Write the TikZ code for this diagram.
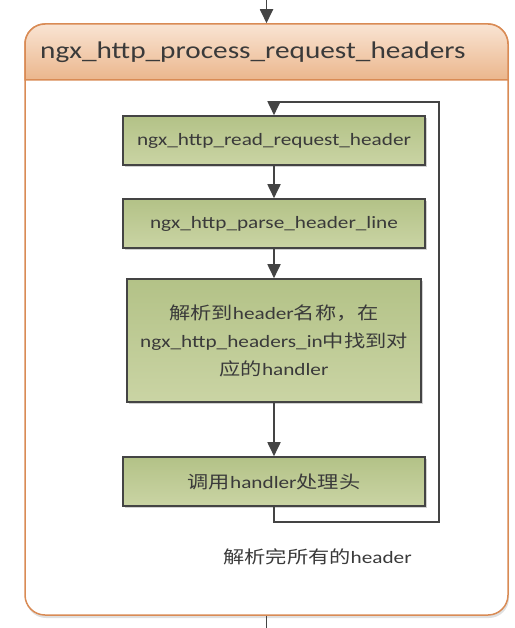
\documentclass[tikz,border=0pt]{standalone}
\usepackage{fontspec}
\setmainfont{Carlito}
\newfontfamily\cjk{Noto Sans CJK SC}
\usetikzlibrary{arrows.meta,shadows}
\definecolor{frameorange}{HTML}{D98B55}
\definecolor{headtop}{HTML}{F9E4D3}
\definecolor{headbot}{HTML}{EBB68C}
\definecolor{boxtop}{HTML}{B3C287}
\definecolor{boxbot}{HTML}{CAD4A4}
\definecolor{linegray}{HTML}{444444}
\definecolor{textgray}{HTML}{3A3A3A}
\newcommand\hstr[1]{\scalebox{1.22}[1]{#1}}
\tikzset{
  stepbox/.style={draw=linegray, line width=1.6pt, top color=boxtop, bottom color=boxbot,
    drop shadow={shadow xshift=2pt, shadow yshift=-2pt, fill=black, opacity=0.18},
    text=textgray, font=\fontsize{17.4}{28}\selectfont, align=center,
    minimum width=302pt, minimum height=49pt, inner sep=0pt},
  flow/.style={draw=linegray, line width=1.8pt, -{Triangle[length=14pt,width=13pt]}},
  plain/.style={draw=linegray, line width=1.8pt},
}
\begin{document}
\begin{tikzpicture}[x=1pt,y=-1pt]
\useasboundingbox (0,0) rectangle (514,628);
% container
\node[draw=frameorange, line width=1.5pt, rounded corners=20pt, fill=white,
  minimum width=483pt, minimum height=591pt, inner sep=0pt,
  drop shadow={shadow xshift=1pt, shadow yshift=-3pt, fill=black, opacity=0.12}]
  (cont) at (266.5,319.5) {};
\shade[top color=headtop, bottom color=headbot, draw=frameorange, line width=1.5pt]
  (25,80) [rounded corners=20pt] -- (25,24) -- (508,24) [sharp corners] -- (508,80) -- cycle;
\node[anchor=west, text=textgray, font=\fontsize{24}{28}\selectfont, inner sep=0pt]
  (title) at (40,52) {\hstr{ngx\_http\_process\_request\_headers}};
% boxes
\node[stepbox] (b1) at (274,140.5) {\hstr{ngx\_http\_read\_request\_header}};
\node[stepbox] (b2) at (274,223.5) {\hstr{ngx\_http\_parse\_header\_line}};
\node[stepbox, minimum width=294pt, minimum height=123pt] (b3) at (274,340.5)
  {\hstr{{\cjk 解析到}header{\cjk 名称，在}}\\
   \hstr{ngx\_http\_headers\_in{\cjk 中找到对}}\\
   \hstr{{\cjk 应的}handler}};
\node[stepbox] (b4) at (274,481.5) {\hstr{{\cjk 调用}handler{\cjk 处理头}}};
\node[text=textgray, font=\fontsize{17.4}{28}\selectfont, inner sep=0pt] (lbl) at (317.5,557)
  {\hstr{{\cjk 解析完所有的}header}};
% external connectors
\coordinate (topin) at (266.5,0);
\coordinate (botout) at (266.5,628);
\draw[flow] (topin) -- (cont.north);
\draw[plain] (cont.south) -- (botout);
% internal flow
\draw[flow] (b1) -- (b2);
\draw[flow] (b2) -- (b3);
\draw[flow] (b3) -- (b4);
\coordinate (l1) at (274,522);
\coordinate (l2) at (439,522);
\coordinate (l3) at (439,102);
\coordinate (l4) at (274,102);
\draw[plain] (b4.south) -- (l1) -- (l2) -- (l3) -- (l4);
\draw[flow] (l4) -- (b1.north);
\end{tikzpicture}
\end{document}
